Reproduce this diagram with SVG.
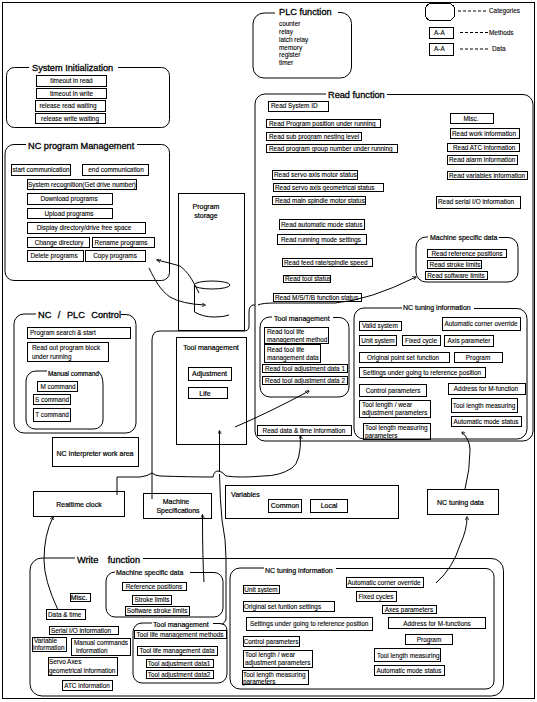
<svg xmlns="http://www.w3.org/2000/svg" width="537" height="702" viewBox="0 0 537 702">
<defs>
<marker id="ah" viewBox="0 0 6 6" refX="5" refY="3" markerWidth="4" markerHeight="4" orient="auto"><path d="M0 0L6 3L0 6Z" fill="#000"/></marker>
</defs>
<style>
rect,path,ellipse,line{fill:none;stroke:#000;stroke-width:1}
rect{shape-rendering:crispEdges}
.c path{marker-end:url(#ah)}
.c path.n{marker-end:none}
text{font-family:"Liberation Sans",Arial,sans-serif;font-size:6.4px;fill:#000;stroke:#000;stroke-width:.1}
.t{font-size:9.200px;stroke-width:.3}
.s{font-size:7px;stroke-width:.2}
.m{text-anchor:middle}
.d{stroke-dasharray:3 2}
</style>
<rect x="2.500" y="2.500" width="532" height="696"/>

<g id="legend">
<rect x="425.500" y="3.500" width="29" height="17" rx="6"/><path class="d" d="M458 11H486"/><text x="489" y="13">Categories</text>
<rect x="429.500" y="27.500" width="24" height="11"/><text x="434" y="35">A-A</text><path class="d" d="M460 32.500H488"/><text x="489" y="35">Methods</text>
<rect x="429.500" y="43.500" width="24" height="12"/><text x="434" y="51">A-A</text><path class="d" d="M460 49H488"/><text x="492" y="51">Data</text>
</g>

<g id="plc-function">
<path d="M338 12.500H340a11 11 0 0 1 11.500 11V67a11 11 0 0 1 -11 11H264a11 11 0 0 1 -11 -11V24a11 11 0 0 1 11 -11H275"/>
<text class="t" x="279" y="15">PLC function</text>
<text x="279" y="26">counter</text><text x="279" y="34">relay</text><text x="279" y="42">latch relay</text><text x="279" y="50">memory</text><text x="279" y="57">register</text><text x="279" y="65">timer</text>
</g>

<g id="system-init">
<path d="M118 67.500H161.500a8 8 0 0 1 8 8V119.500a8 8 0 0 1 -8 8H14.500a8 8 0 0 1 -8 -8V75.500a8 8 0 0 1 8 -8H29"/>
<text class="t" x="32" y="71">System Initialization</text>
<rect x="36.500" y="75.500" width="70" height="11"/><text class="m" x="71.500" y="83">timeout in read</text>
<rect x="36.500" y="88.500" width="70" height="10"/><text class="m" x="71.500" y="96">timeout in write</text>
<rect x="35.500" y="100.500" width="70" height="11"/><text class="m" x="68" y="108">release read waiting</text>
<rect x="35.500" y="113.500" width="70" height="10"/><text class="m" x="70" y="121">release write waiting</text>
</g>

<g id="nc-program">
<path d="M137 144.500H161.500a8 8 0 0 1 8 8V272.500a8 8 0 0 1 -8 8H14a9 9 0 0 1 -9 -9V154a9 9 0 0 1 9 -9.500H26"/>
<text class="t" x="28" y="149">NC program Management</text>
<rect x="11.500" y="164.500" width="59" height="11"/><text class="m" x="41" y="172">start communication</text>
<rect x="82.500" y="164.500" width="66" height="11"/><text class="m" x="116" y="172">end communication</text>
<rect x="27.500" y="179.500" width="109" height="10"/><text class="m" x="82" y="187">System recognition(Get drive number)</text>
<rect x="27.500" y="193.500" width="85" height="11"/><text class="m" x="69" y="201">Download programs</text>
<rect x="27.500" y="208.500" width="85" height="10"/><text class="m" x="69" y="216">Upload programs</text>
<rect x="27.500" y="222.500" width="118" height="11"/><text class="m" x="84" y="230">Display directory/drive free space</text>
<rect x="27.500" y="237.500" width="62" height="10"/><text class="m" x="59" y="245">Change directory</text>
<rect x="92.500" y="237.500" width="62" height="10"/><text class="m" x="121" y="245">Rename programs</text>
<rect x="27.500" y="250.500" width="56" height="11"/><text class="m" x="54" y="258">Delete programs</text>
<rect x="85.500" y="250.500" width="60" height="11"/><text class="m" x="115" y="258">Copy programs</text>
</g>

<g id="program-storage">
<rect x="178.500" y="193.500" width="66" height="137"/>
<text class="s m" x="206" y="209">Program</text><text class="s m" x="206" y="218">storage</text>
<ellipse cx="212" cy="285" rx="18" ry="4"/>
<path d="M194.500 285V312Q203 317 214 317Q224 317 229 315"/>
</g>

<g id="read-function">
<path d="M387 94.500H523a10 10 0 0 1 10 10V431a10 10 0 0 1 -10 10H265a10 10 0 0 1 -10 -10V104a10 10 0 0 1 10 -10H326"/>
<text class="t" x="328" y="98">Read function</text>
<rect x="268.500" y="101.500" width="60" height="10"/><text x="271" y="108">Read  System ID</text>
<rect x="266.500" y="119.500" width="114" height="8"/><text x="269" y="126">Read  Program position under running</text>
<rect x="266.500" y="132.500" width="95" height="8"/><text x="269" y="138.500">Read sub program nesting level</text>
<rect x="266.500" y="144.500" width="131" height="8"/><text x="269" y="150.500">Read program group number under running</text>
<rect x="272.500" y="170.500" width="85" height="9"/><text x="274" y="177">Read servo axis motor status</text>
<rect x="273.500" y="183.500" width="110" height="8"/><text x="275" y="190">Read servo axis geometrical status</text>
<rect x="272.500" y="196.500" width="93" height="8"/><text x="275" y="202.500">Read main spindle motor status</text>
<rect x="279.500" y="219.500" width="85" height="10"/><text x="281" y="226.500">Read automatic mode status</text>
<rect x="277.500" y="234.500" width="89" height="10"/><text x="281" y="241.500">Read running mode settings</text>
<rect x="282.500" y="258.500" width="90" height="8"/><text x="284" y="264.500">Read feed rate/spindle speed</text>
<rect x="283.500" y="275.500" width="47" height="7"/><text x="285" y="281">Read tool status</text>
<rect x="273.500" y="293.500" width="88" height="8"/><text x="275" y="299.500">Read M/S/T/B function status</text>
<rect x="450.500" y="113.500" width="43" height="10"/><text class="m" x="471" y="120.500">Misc.</text>
<rect x="450.500" y="128.500" width="69" height="10"/><text x="452" y="135.500">Read work information</text>
<rect x="447.500" y="143.500" width="72" height="8"/><text x="453" y="149.500">Read  ATC information</text>
<rect x="447.500" y="155.500" width="70" height="9"/><text x="449" y="162">Read alarm information</text>
<rect x="447.500" y="171.500" width="80" height="8"/><text x="449" y="177.500">Read variables information</text>
<rect x="436.500" y="196.500" width="84" height="12"/><text x="438" y="204">Read serial I/O information</text>
<rect x="257.500" y="425.500" width="94" height="10"/><text class="m" x="304" y="432.500">Read data &amp; time information</text>
</g>

<g id="read-machine-data">
<path d="M499 237.500H508a10 10 0 0 1 10 10V272a10 10 0 0 1 -10 10H426a10 10 0 0 1 -10 -10V247a10 10 0 0 1 10 -10H428"/>
<text class="s" x="430" y="240">Machine specific data</text>
<rect x="427.500" y="249.500" width="79" height="8"/><text class="m" x="467" y="256">Read reference positions</text>
<rect x="427.500" y="260.500" width="54" height="8"/><text class="m" x="455" y="266.500">Read stroke limits</text>
<rect x="425.500" y="271.500" width="62" height="8"/><text class="m" x="456" y="277.500">Read software limits</text>
</g>

<g id="read-tool-management">
<path d="M333 317.500H339a10 10 0 0 1 10 10V387a10 10 0 0 1 -10 10H270a10 10 0 0 1 -10 -10V327a10 10 0 0 1 10 -10H272"/>
<text class="s" x="274" y="321">Tool management</text>
<rect x="264.500" y="327.500" width="64" height="16"/><text x="267" y="333.500">Read tool life</text><text x="267" y="341.500">management method</text>
<rect x="264.500" y="344.500" width="56" height="18"/><text x="267" y="351.500">Read tool life</text><text x="267" y="359.500">management data</text>
<rect x="262.500" y="364.500" width="85" height="8"/><text class="m" x="305" y="370.500">Read tool adjustment data 1</text>
<rect x="262.500" y="376.500" width="85" height="8"/><text class="m" x="305" y="382.500">Read tool adjustment data 2</text>
</g>

<g id="read-nc-tuning">
<path d="M474 308.500H517a10 10 0 0 1 10 10V429a10 10 0 0 1 -10 10H364a10 10 0 0 1 -10 -10V318a10 10 0 0 1 10 -10H402"/>
<text class="s" x="403" y="309.500">NC tuning information</text>
<rect x="359.500" y="321.500" width="42" height="9"/><text x="362" y="328">Valid system</text>
<rect x="442.500" y="317.500" width="78" height="13"/><text class="m" x="481" y="326">Automatic corner override</text>
<rect x="359.500" y="335.500" width="37" height="10"/><text class="m" x="378" y="343">Unit system</text>
<rect x="402.500" y="335.500" width="38" height="10"/><text class="m" x="421" y="343">Fixed cycle</text>
<rect x="444.500" y="335.500" width="49" height="11"/><text class="m" x="469" y="343">Axis parameter</text>
<rect x="359.500" y="352.500" width="90" height="10"/><text class="m" x="403" y="359.500">Original point set function</text>
<rect x="454.500" y="352.500" width="48" height="10"/><text class="m" x="478" y="359.500">Program</text>
<rect x="359.500" y="367.500" width="126" height="10"/><text class="m" x="422" y="375">Settings under going to reference position</text>
<rect x="359.500" y="384.500" width="67" height="12"/><text class="m" x="393" y="393">Control parameters</text>
<rect x="448.500" y="383.500" width="77" height="11"/><text class="m" x="486" y="391">Address for M-function</text>
<rect x="451.500" y="398.500" width="66" height="14"/><text class="m" x="484" y="407.500">Tool length measuring</text>
<rect x="451.500" y="416.500" width="70" height="10"/><text class="m" x="486" y="423.500">Automatic mode status</text>
<rect x="359.500" y="400.500" width="71" height="17"/><text x="362" y="406.500">Tool length / wear</text><text x="362" y="415">adjustment parameters</text>
<rect x="363.500" y="423.500" width="67" height="16"/><text x="365" y="429.500">Tool length measuring</text><text x="365" y="438">parameters</text>
</g>

<g id="nc-plc-control">
<path d="M121 314.500H126a10 10 0 0 1 10 10V423a10 10 0 0 1 -10 10H24a10 10 0 0 1 -10 -10V324a10 10 0 0 1 10 -10H36"/>
<text class="t" x="38" y="318" style="word-spacing:4px">NC / PLC Control</text>
<rect x="27.500" y="327.500" width="103" height="11"/><text x="30" y="335">Program search &amp; start</text>
<rect x="27.500" y="342.500" width="81" height="19"/><text x="32" y="350">Read out program block</text><text x="32" y="359">under running</text>
<path d="M98 371.500Q103 375 103 385V420a9 9 0 0 1 -9 9H35a9 9 0 0 1 -9 -9V381a10 10 0 0 1 10 -10H47"/>
<text x="48" y="376" style="stroke-width:.2">Manual command</text>
<rect x="37.500" y="381.500" width="40" height="10"/><text class="m" x="58" y="389">M command</text>
<rect x="33.500" y="394.500" width="37" height="10"/><text class="m" x="52" y="402">S command</text>
<rect x="33.500" y="408.500" width="37" height="13"/><text class="m" x="52" y="417">T command</text>
</g>

<g id="nc-interpreter"><rect x="52.500" y="437.500" width="86" height="29"/><text class="s m" x="95" y="456">NC Interpreter work area</text></g>

<g id="tool-management">
<rect x="176.500" y="337.500" width="70" height="107"/>
<text class="s m" x="211" y="350">Tool management</text>
<rect x="188.500" y="367.500" width="43" height="13"/><text class="s m" x="209.500" y="376">Adjustment</text>
<rect x="188.500" y="387.500" width="39" height="11"/><text class="s m" x="205" y="396">Life</text>
</g>

<g id="realtime-clock"><rect x="33.500" y="491.500" width="91" height="25"/><text class="s m" x="79" y="507">Realtime clock</text></g>
<g id="machine-specifications"><rect x="143.500" y="493.500" width="68" height="25"/><text class="s m" x="176" y="504">Machine</text><text class="s m" x="178" y="513">Specifications</text></g>
<g id="variables"><rect x="225.500" y="485.500" width="173" height="33"/><text class="s" x="231" y="497">Variables</text>
<rect x="268.500" y="499.500" width="33" height="13"/><text class="s m" x="285" y="508">Common</text>
<rect x="310.500" y="499.500" width="37" height="13"/><text class="s m" x="329" y="508">Local</text></g>
<g id="nc-tuning-data"><rect x="427.500" y="489.500" width="71" height="25"/><text class="s" x="437" y="505">NC tuning data</text></g>

<g id="write-function">
<path d="M143 558.500H491a12 12 0 0 1 12.500 12V684a12 12 0 0 1 -12 12H42a12 12 0 0 1 -12 -12V570a12 12 0 0 1 12 -12H75"/>
<text class="t" x="77" y="563" style="word-spacing:7px">Write function</text>
<rect x="70.500" y="593.500" width="20" height="8"/><text class="s m" x="79" y="600">Misc.</text>
<rect x="46.500" y="609.500" width="39" height="10"/><text x="48" y="616.500">Data &amp; time</text>
<rect x="49.500" y="626.500" width="69" height="8"/><text x="51" y="632.500">Serial I/O information</text>
<rect x="32.500" y="637.500" width="34" height="14"/><text x="34" y="643">Variable</text><text x="33" y="650">information</text>
<rect x="71.500" y="638.500" width="59" height="17"/><text x="74" y="644.500">Manual commands</text><text x="76" y="652.500">information</text>
<rect x="48.500" y="657.500" width="69" height="18"/><text x="49" y="664">Servo Axes</text><text x="49" y="672.500">geometrical information</text>
<rect x="62.500" y="680.500" width="50" height="10"/><text class="m" x="87" y="687.500">ATC information</text>
</g>

<g id="write-machine-data">
<path d="M190 572.500H214a9 9 0 0 1 9 9V608a9 9 0 0 1 -9 9H115a9 9 0 0 1 -9 -9V581a9 9 0 0 1 9 -9H115"/>
<text class="s" x="116" y="575">Machine specific data</text>
<rect x="122.500" y="582.500" width="64" height="8"/><text class="m" x="154" y="589">Reference positions</text>
<rect x="132.500" y="595.500" width="39" height="9"/><text class="m" x="152" y="602">Stroke limits</text>
<rect x="125.500" y="606.500" width="64" height="9"/><text class="m" x="157" y="613">Software stroke limits</text>
</g>

<g id="write-tool-management">
<path d="M213 623.500H219Q227 623 227 631V674a9 9 0 0 1 -9 9H142a9 9 0 0 1 -9 -9V632a9 9 0 0 1 9 -9H152"/>
<text class="s" x="153" y="627">Tool management</text>
<rect x="134.500" y="630.500" width="92" height="8"/><text class="m" x="180" y="636.500">Tool life management methods</text>
<rect x="137.500" y="646.500" width="80" height="9"/><text class="m" x="177" y="653">Tool life management data</text>
<rect x="146.500" y="659.500" width="67" height="8"/><text class="m" x="179" y="665.500">Tool adjustment data1</text>
<rect x="146.500" y="670.500" width="67" height="8"/><text class="m" x="179" y="676.500">Tool adjustment data2</text>
</g>

<g id="write-nc-tuning">
<path d="M336 568.500H486a8 8 0 0 1 8 8V681a8 8 0 0 1 -8 8H240a10 10 0 0 1 -10 -10V578a10 10 0 0 1 10 -10H264"/>
<text class="s" x="265" y="573">NC tuning information</text>
<rect x="243.500" y="585.500" width="36" height="8"/><text class="m" x="261" y="592">Unit system</text>
<rect x="346.500" y="577.500" width="77" height="10"/><text class="m" x="384" y="584.500">Automatic corner override</text>
<rect x="356.500" y="591.500" width="40" height="10"/><text class="m" x="376" y="598.500">Fixed cycles</text>
<rect x="382.500" y="605.500" width="54" height="8"/><text class="m" x="409" y="611.500">Axes parameters</text>
<rect x="243.500" y="601.500" width="91" height="10"/><text x="244" y="608.500">Original set funtion settings</text>
<rect x="246.500" y="617.500" width="126" height="13"/><text x="250" y="625.500">Settings under going to reference position</text>
<rect x="388.500" y="617.500" width="97" height="11"/><text class="m" x="437" y="625.500">Address for M-functions</text>
<rect x="405.500" y="634.500" width="47" height="10"/><text class="m" x="429" y="642">Program</text>
<rect x="243.500" y="636.500" width="56" height="10"/><text class="m" x="271" y="643.500">Control parameters</text>
<rect x="374.500" y="648.500" width="66" height="13"/><text x="377" y="657.500">Tool length measuring</text>
<rect x="374.500" y="665.500" width="70" height="10"/><text class="m" x="409" y="672.500">Automatic mode status</text>
<rect x="243.500" y="650.500" width="69" height="17"/><text x="245" y="657">Tool length / wear</text><text x="245" y="665">adjustment parameters</text>
<rect x="242.500" y="670.500" width="66" height="14"/><text x="243" y="676.500">Tool length measuring</text><text x="243" y="684">parameters</text>
</g>

<g id="connectors" class="c">
<path d="M199 293C192 279 188 272 180 266Q170 263 157 260"/>
<path d="M149 268C155 280 160 290 170 297Q182 304 205 305"/>
<path d="M258 305Q262 303 275 303H335Q370 300 416 277"/>
<path class="n" d="M255 305H253Q249 306 249 312V326Q249 331 244 331H160Q152 331 152 340V499"/>
<path d="M235 427Q270 412 309 391"/>
<path d="M219.500 472V431"/>
<path class="n" d="M219.500 474Q220 500 222 520Q226 540 226 558V620L222 625"/>
<path d="M292 468Q301 462 300.500 436"/>
<path class="n" d="M292 468Q280 476 263 476Q240 478 226 476Q222 471 218 471Q214 471 213 477Q190 477 160 476Q156 476 152 473Q148 476 140 477H117V495"/>
<path d="M204 582Q202.500 560 202.500 515"/>
<path d="M58 610Q44 580 44 560Q44 535 53 517"/>
<path d="M436 583Q453 568 460 545Q467 530 467 517"/>
<path d="M465 489Q470 470 470 450Q470 440 462 432"/>
</g>
</svg>
